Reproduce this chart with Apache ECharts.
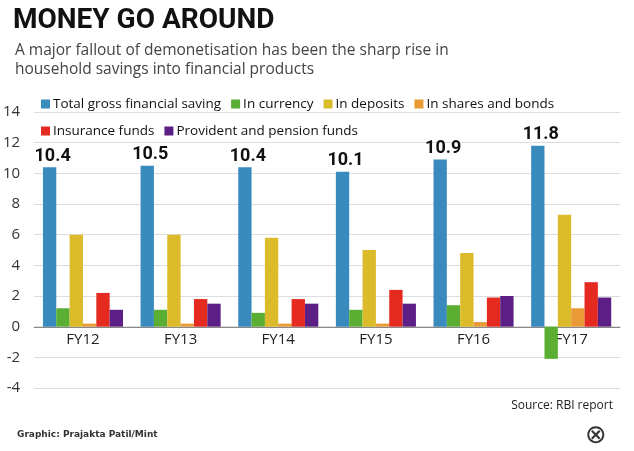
<!DOCTYPE html><html><head><meta charset="utf-8"><script src="https://cdn.jsdelivr.net/npm/echarts@6/dist/echarts.min.js"></script>
<style>body{margin:0;background:#fff}#c{width:634px;height:451px}</style></head><body><div id="c"></div><script>
const categories=['FY12','FY13','FY14','FY15','FY16','FY17'];
const seriesNames=['Total gross financial saving','In currency','In deposits','In shares and bonds','Insurance funds','Provident and pension funds'];
const totalSaving=[10.4,10.5,10.4,10.1,10.9,11.8];
const inCurrency=[1.2,1.1,0.9,1.1,1.4,-2.1];
const inDeposits=[6.0,6.0,5.8,5.0,4.8,7.3];
const inShares=[0.2,0.2,0.2,0.2,0.3,1.2];
const insurance=[2.2,1.8,1.8,2.4,1.9,2.9];
const provident=[1.1,1.5,1.5,1.5,2.0,1.9];
const yTicks=[-4,-2,0,2,4,6,8,10,12,14];
const colors=['#3a8bbd','#5aae32','#dcbb2a','#e99a35','#e52a20','#5c1f86'];
const data=[totalSaving,inCurrency,inDeposits,inShares,insurance,provident];
const chart=echarts.init(document.getElementById('c'));
chart.setOption({
animation:false,
color:colors,
title:[{text:'MONEY GO AROUND',left:8,top:2,textStyle:{fontFamily:'Liberation Sans Narrow, Roboto',fontWeight:'bold',fontSize:28,color:'#111'}},
{text:'A major fallout of demonetisation has been the sharp rise in\nhousehold savings into financial products',left:10,top:36,textStyle:{fontFamily:'Open Sans',fontWeight:'normal',fontSize:15.5,lineHeight:19,color:'#444'}},
{text:'Source: RBI report',right:16,top:395,textStyle:{fontFamily:'Open Sans',fontWeight:'normal',fontSize:12,color:'#222'}},
{text:'Graphic: Prajakta Patil/Mint',left:12,top:425,textStyle:{fontFamily:'DejaVu Sans',fontWeight:'bold',fontSize:9,color:'#333'}},
{text:'⊗',left:580,top:418,textStyle:{fontFamily:'DejaVu Sans',fontWeight:'normal',fontSize:26,color:'#333'}}],
legend:[{data:seriesNames.slice(0,4),left:36,top:92,itemWidth:9,itemHeight:9,itemGap:10,icon:'rect',textStyle:{fontFamily:'Open Sans',fontSize:13.5,color:'#111',padding:[0,0,0,-2]}},
{data:seriesNames.slice(4),left:36,top:119,itemWidth:9,itemHeight:9,itemGap:10,icon:'rect',textStyle:{fontFamily:'Open Sans',fontSize:13.5,color:'#111',padding:[0,0,0,-2]}}],
grid:{left:30,right:14,top:112,bottom:63},
xAxis:{type:'category',data:categories,offset:-61,axisTick:{show:false},axisLine:{onZero:false,lineStyle:{color:'#888'}},axisLabel:{fontFamily:'Open Sans',fontSize:15,color:'#222',margin:5}},
yAxis:{type:'value',min:-4,max:14,interval:2,axisLabel:{fontFamily:'Open Sans',fontSize:15,color:'#333',margin:14},splitLine:{lineStyle:{color:'#ddd'}},axisLine:{show:false}},
series:data.map((d,i)=>({name:seriesNames[i],type:'bar',data:d,barGap:'0%',barCategoryGap:'18%',
label:i===0?{show:true,position:'top',distance:2,offset:[3,0],fontFamily:'Liberation Sans Narrow, Roboto',fontWeight:'bold',fontSize:18,color:'#111'}:{show:false}}))
});
</script></body></html>
